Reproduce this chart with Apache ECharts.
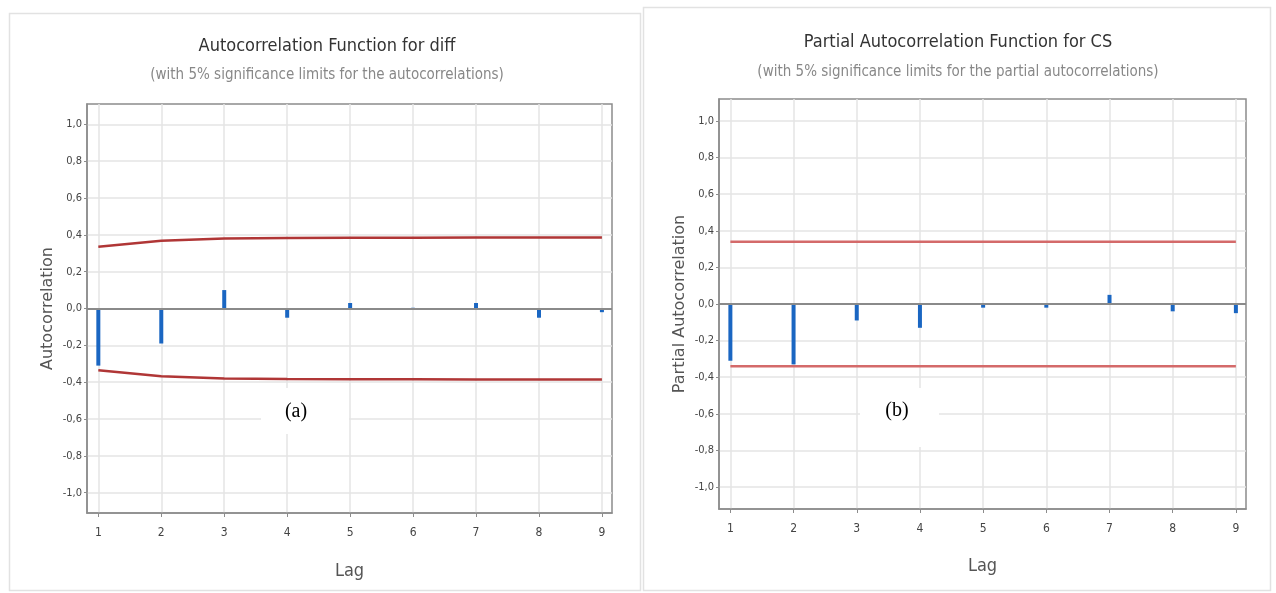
<!DOCTYPE html>
<html>
<head>
<meta charset="utf-8">
<script src="https://cdn.jsdelivr.net/npm/echarts@6/dist/echarts.min.js"></script>
<style>
  html, body { margin: 0; padding: 0; background: #fff; }
  #chart { width: 1276px; height: 593px; }
</style>
</head>
<body>
<div id="chart"></div>
<script>
// Data
const lags = [1, 2, 3, 4, 5, 6, 7, 8, 9];
const acfValues = [-0.31, -0.19, 0.10, -0.05, 0.03, 0.004, 0.03, -0.05, -0.02];
const acfUpper = [0.335, 0.368, 0.380, 0.383, 0.384, 0.384, 0.385, 0.385, 0.385];
const acfLower = [-0.335, -0.368, -0.380, -0.383, -0.384, -0.384, -0.385, -0.385, -0.385];
const pacfValues = [-0.31, -0.33, -0.09, -0.13, -0.02, -0.02, 0.05, -0.04, -0.05];
const pacfUpper = [0.34, 0.34, 0.34, 0.34, 0.34, 0.34, 0.34, 0.34, 0.34];
const pacfLower = [-0.34, -0.34, -0.34, -0.34, -0.34, -0.34, -0.34, -0.34, -0.34];
const yTicks = [-1.0, -0.8, -0.6, -0.4, -0.2, 0.0, 0.2, 0.4, 0.6, 0.8, 1.0];

const narrow = "'Liberation Sans Narrow', 'DejaVu Sans Condensed', sans-serif";
const pair = (xs, ys) => xs.map((x, i) => [x, ys[i]]);

const chart = echarts.init(document.getElementById("chart"));

function makeXAxis(gridIndex) {
  return {
    type: "value",
    gridIndex: gridIndex,
    min: 0.82,
    max: 9.16,
    name: "Lag",
    nameLocation: "middle",
    nameGap: gridIndex === 0 ? 49 : 48,
    nameTextStyle: { color: "#555", fontSize: 18, fontFamily: narrow },
    axisLine: { onZero: false, lineStyle: { color: "#8c8c8c", width: 1.5 } },
    axisTick: { customValues: lags, length: 4, lineStyle: { color: "#8c8c8c" } },
    axisLabel: {
      customValues: lags,
      color: "#444",
      fontSize: 12,
      fontFamily: narrow,
      margin: 14,
    },
    splitLine: { show: true, lineStyle: { color: "#e4e4e4", width: 1.5 } },
  };
}

function makeYAxis(gridIndex, name, range) {
  return {
    type: "value",
    gridIndex: gridIndex,
    min: -range,
    max: range,
    name: name,
    nameLocation: "middle",
    nameGap: 31,
    nameTextStyle: { color: "#555", fontSize: 16, fontFamily: "'DejaVu Sans', sans-serif" },
    axisLine: { onZero: false, lineStyle: { color: "#8c8c8c", width: 1.5 } },
    axisTick: { customValues: yTicks, length: 3, lineStyle: { color: "#8c8c8c" } },
    axisLabel: {
      customValues: yTicks,
      color: "#444",
      fontSize: 11,
      fontFamily: narrow,
      margin: 5,
      formatter: (v) => v.toFixed(1).replace(".", ","),
    },
    splitLine: { show: true, lineStyle: { color: "#e4e4e4", width: 1.5 } },
  };
}

function barSeries(idx, values) {
  return {
    type: "bar",
    xAxisIndex: idx,
    yAxisIndex: idx,
    barWidth: 4,
    data: pair(lags, values),
    itemStyle: { color: "#1a66c2" },
    markLine: {
      silent: true,
      symbol: "none",
      label: { show: false },
      lineStyle: { color: "#8a8a8a", width: 2, type: "solid" },
      data: [{ yAxis: 0 }],
    },
    z: 3,
  };
}

function limitSeries(idx, values, color) {
  return {
    type: "line",
    xAxisIndex: idx,
    yAxisIndex: idx,
    data: pair(lags, values),
    showSymbol: false,
    lineStyle: { color: color, width: 2.5 },
    z: 2,
  };
}

chart.setOption({
  backgroundColor: "#fff",
  animation: false,
  grid: [
    { left: 87, top: 104, width: 525, height: 409, show: true, backgroundColor: "#fff", borderColor: "#8c8c8c", borderWidth: 1.5 },
    { left: 719, top: 99, width: 527, height: 410, show: true, backgroundColor: "#fff", borderColor: "#8c8c8c", borderWidth: 1.5 },
  ],
  xAxis: [makeXAxis(0), makeXAxis(1)],
  yAxis: [
    makeYAxis(0, "Autocorrelation", 1.11),
    makeYAxis(1, "Partial Autocorrelation", 1.12),
  ],
  series: [
    limitSeries(0, acfUpper, "#b03636"),
    limitSeries(0, acfLower, "#b03636"),
    barSeries(0, acfValues),
    limitSeries(1, pacfUpper, "#d46a6a"),
    limitSeries(1, pacfLower, "#d46a6a"),
    barSeries(1, pacfValues),
  ],
  graphic: [
    { type: "rect", z: -10, shape: { x: 9.5, y: 13.5, width: 631, height: 577 }, style: { fill: "none", stroke: "#e2e2e2", lineWidth: 1.5 } },
    { type: "rect", z: -10, shape: { x: 643.5, y: 7.5, width: 627, height: 583 }, style: { fill: "none", stroke: "#e2e2e2", lineWidth: 1.5 } },
    { type: "text", x: 327, y: 46, style: { text: "Autocorrelation Function for diff", fill: "#333", font: "18px " + narrow, align: "center", verticalAlign: "middle" } },
    { type: "text", x: 327, y: 75, style: { text: "(with 5% significance limits for the autocorrelations)", fill: "#888", font: "15px " + narrow, align: "center", verticalAlign: "middle" } },
    { type: "text", x: 958, y: 42, style: { text: "Partial Autocorrelation Function for CS", fill: "#333", font: "18px " + narrow, align: "center", verticalAlign: "middle" } },
    { type: "text", x: 958, y: 72, style: { text: "(with 5% significance limits for the partial autocorrelations)", fill: "#888", font: "15px " + narrow, align: "center", verticalAlign: "middle" } },
    { type: "rect", z: 100, shape: { x: 261, y: 388, width: 88, height: 46 }, style: { fill: "#fff" } },
    { type: "text", z: 101, x: 296, y: 412, style: { text: "(a)", fill: "#000", font: "20px 'Liberation Serif', serif", align: "center", verticalAlign: "middle" } },
    { type: "rect", z: 100, shape: { x: 860, y: 388, width: 79, height: 59 }, style: { fill: "#fff" } },
    { type: "text", z: 101, x: 897, y: 411, style: { text: "(b)", fill: "#000", font: "20px 'Liberation Serif', serif", align: "center", verticalAlign: "middle" } },
  ],
});
</script>
</body>
</html>
